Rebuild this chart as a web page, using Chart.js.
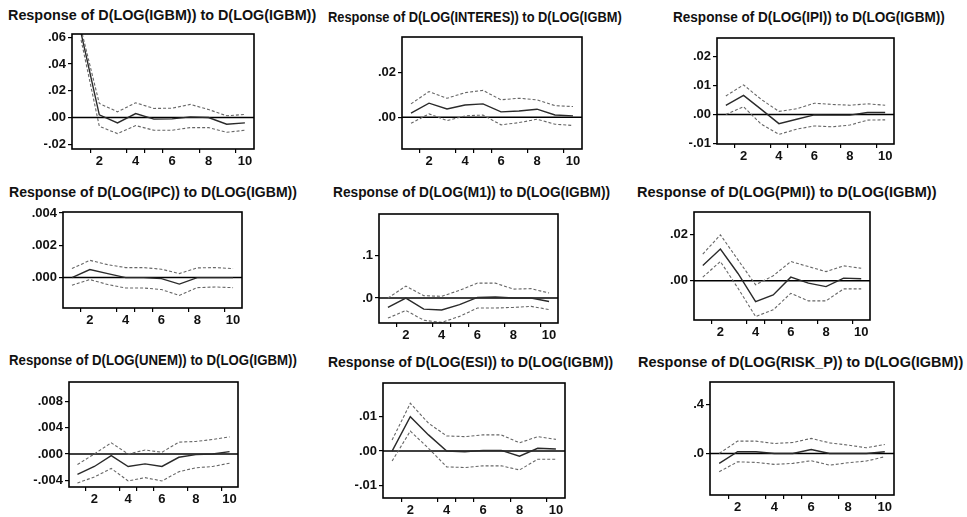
<!DOCTYPE html>
<html>
<head>
<meta charset="utf-8">
<script src="https://cdn.jsdelivr.net/npm/chart.js@4.4.1/dist/chart.umd.min.js"></script>
<style>
  body { margin: 0; background: #fff; width: 967px; height: 517px; position: relative; overflow: hidden; }
  .ttl { position: absolute; font: bold 14px "Liberation Sans", Arial, sans-serif; color: #111; white-space: nowrap; }
  canvas { position: absolute; }
</style>
</head>
<body>
<script>
// periods 1..10; tick marks sit between periods, labels on the even periods (EViews style)
const periods = [1, 2, 3, 4, 5, 6, 7, 8, 9, 10];
const xTickMarks = [1.5, 3.5, 4.5, 5.5, 7.5, 9.5];
const xLabelPos = [2, 4, 6, 8, 10];

const titles = [
  'Response of D(LOG(IGBM)) to D(LOG(IGBM))',
  'Response of D(LOG(INTERES)) to D(LOG(IGBM)',
  'Response of D(LOG(IPI)) to D(LOG(IGBM))',
  'Response of D(LOG(IPC)) to D(LOG(IGBM))',
  'Response of D(LOG(M1)) to D(LOG(IGBM))',
  'Response of D(LOG(PMI)) to D(LOG(IGBM))',
  'Response of D(LOG(UNEM)) to D(LOG(IGBM))',
  'Response of D(LOG(ESI)) to D(LOG(IGBM))',
  'Response of D(LOG(RISK_P)) to D(LOG(IGBM))'
];

// response, upper band, lower band
const igbmMid = [0.063, 0.002, -0.004, 0.003, -0.0012, -0.001, 0.0005, 0.0, -0.005, -0.004];
const igbmUp  = [0.066, 0.0105, 0.0043, 0.011, 0.0068, 0.007, 0.0098, 0.006, 0.0013, 0.0023];
const igbmLow = [0.058, -0.0065, -0.012, -0.006, -0.0095, -0.0095, -0.0075, -0.0075, -0.011, -0.0095];

const interMid = [0.0018, 0.0063, 0.0037, 0.0055, 0.006, 0.0024, 0.0028, 0.0036, 0.001, 0.0006];
const interUp  = [0.006, 0.0115, 0.0085, 0.011, 0.012, 0.0078, 0.0085, 0.0078, 0.0052, 0.0048];
const interLow = [-0.0027, 0.0015, -0.0015, 0.0006, 0.001, -0.0034, -0.0024, -0.0009, -0.0031, -0.0037];

const ipiMid = [0.0032, 0.0066, 0.0018, -0.0031, -0.0016, -0.0001, -0.0002, -0.0002, 0.0007, 0.0007];
const ipiUp  = [0.0064, 0.0102, 0.0052, 0.0011, 0.002, 0.0039, 0.0035, 0.0032, 0.0037, 0.0032];
const ipiLow = [0.0, 0.0027, -0.0033, -0.0068, -0.005, -0.0039, -0.0042, -0.0036, -0.0019, -0.0018];

const ipcMid = [0.0, 0.0005, 0.00025, 0.0, 0.0, -0.00006, -0.0004, 0.0, 0.0, 0.0];
const ipcUp  = [0.00056, 0.00107, 0.0008, 0.00062, 0.00062, 0.00052, 0.00025, 0.0006, 0.00062, 0.00056];
const ipcLow = [-0.00047, -0.00012, -0.00043, -0.00064, -0.00064, -0.00074, -0.0011, -0.00062, -0.00058, -0.00062];

const m1Mid = [-0.022, 0.0, -0.026, -0.028, -0.0156, 0.0016, 0.0023, 0.0, 0.0, -0.008];
const m1Up  = [0.0, 0.028, 0.0055, 0.004, 0.018, 0.035, 0.035, 0.021, 0.022, 0.0117];
const m1Low = [-0.047, -0.029, -0.052, -0.057, -0.043, -0.0234, -0.0234, -0.022, -0.0195, -0.027];

const pmiMid = [0.0067, 0.0138, 0.0032, -0.009, -0.0061, 0.0016, -0.001, -0.0025, 0.0012, 0.0009];
const pmiUp  = [0.0116, 0.02, 0.0091, -0.0017, 0.0022, 0.0084, 0.0062, 0.004, 0.0065, 0.0055];
const pmiLow = [0.0016, 0.0084, -0.0032, -0.0155, -0.0126, -0.0054, -0.0087, -0.0087, -0.0035, -0.0035];

const unemMid = [-0.0031, -0.0019, -0.00026, -0.0019, -0.0015, -0.0019, -0.0005, -0.0001, 0.0, 0.00036];
const unemUp  = [-0.0016, 0.0, 0.0017, 0.0, 0.0006, 0.00026, 0.0018, 0.0019, 0.0022, 0.0026];
const unemLow = [-0.0044, -0.0035, -0.0022, -0.0041, -0.0036, -0.0041, -0.0027, -0.0021, -0.0019, -0.0014];

const esiMid = [0.0, 0.01, 0.0047, 0.0, -0.0002, 0.0002, 0.0002, -0.0015, 0.0008, 0.0006];
const esiUp  = [0.0032, 0.0139, 0.0081, 0.0044, 0.0042, 0.0047, 0.0047, 0.0024, 0.0042, 0.0034];
const esiLow = [-0.0029, 0.0058, 0.0008, -0.0046, -0.0048, -0.0043, -0.0043, -0.0055, -0.0024, -0.0024];

const riskMid = [-0.081, 0.0135, 0.0135, 0.0, 0.0, 0.032, 0.0, 0.0, 0.0, 0.0135];
const riskUp  = [0.0, 0.1, 0.1, 0.081, 0.089, 0.122, 0.086, 0.068, 0.046, 0.073];
const riskLow = [-0.149, -0.068, -0.073, -0.089, -0.081, -0.059, -0.095, -0.076, -0.062, -0.027];

// y tick values and their labels
const igbmTicks = [-0.02, 0, 0.02, 0.04, 0.06];   const igbmTickText = ['-.02', '.00', '.02', '.04', '.06'];
const interTicks = [0, 0.02];                      const interTickText = ['.00', '.02'];
const ipiTicks = [-0.01, 0, 0.01, 0.02];           const ipiTickText = ['-.01', '.00', '.01', '.02'];
const ipcTicks = [0, 0.002, 0.004];                const ipcTickText = ['.000', '.002', '.004'];
const m1Ticks = [0, 0.1];                          const m1TickText = ['.0', '.1'];
const pmiTicks = [0, 0.02];                        const pmiTickText = ['.00', '.02'];
const unemTicks = [-0.004, 0, 0.004, 0.008];       const unemTickText = ['-.004', '.000', '.004', '.008'];
const esiTicks = [-0.01, 0, 0.01];                 const esiTickText = ['-.01', '.00', '.01'];
const riskTicks = [0, 0.4];                        const riskTickText = ['.0', '.4'];

// y axis ranges
const igbmRange = [-0.0235, 0.0624];
const interRange = [-0.0142, 0.0359];
const ipiRange = [-0.0101, 0.0263];
const ipcRange = [-0.00188, 0.00406];
const m1Range = [-0.0585, 0.197];
const pmiRange = [-0.017, 0.0299];
const unemRange = [-0.00502, 0.01094];
const esiRange = [-0.01366, 0.0198];
const riskRange = [-0.338, 0.581];

const series = [
  [igbmMid, igbmUp, igbmLow, igbmTicks, igbmTickText, igbmRange],
  [interMid, interUp, interLow, interTicks, interTickText, interRange],
  [ipiMid, ipiUp, ipiLow, ipiTicks, ipiTickText, ipiRange],
  [ipcMid, ipcUp, ipcLow, ipcTicks, ipcTickText, ipcRange],
  [m1Mid, m1Up, m1Low, m1Ticks, m1TickText, m1Range],
  [pmiMid, pmiUp, pmiLow, pmiTicks, pmiTickText, pmiRange],
  [unemMid, unemUp, unemLow, unemTicks, unemTickText, unemRange],
  [esiMid, esiUp, esiLow, esiTicks, esiTickText, esiRange],
  [riskMid, riskUp, riskLow, riskTicks, riskTickText, riskRange]
];

// layout: plot box [left, top, right, bottom], title [left, right, centre y]
const boxes = [
  [72, 34, 254, 149], [402, 37, 582, 149], [717, 38, 894, 144],
  [63, 212, 242, 308], [379, 214, 558, 323], [694, 212, 870, 320],
  [69, 382, 238, 487], [383, 383, 565, 498], [710, 382, 894, 495]
];
const titleSpan = [
  [8, 316, 15], [328, 622, 17], [673, 945, 17],
  [9, 297, 192], [333, 610, 192], [637, 937, 192],
  [9, 297, 360], [328, 613, 362], [638, 963, 362]
];

const AXW = 48, AXH = 22, PADT = 10, PADR = 12;
const tickFont = { family: '"Liberation Sans", Arial, sans-serif', size: 13, weight: 'bold' };
const xAll = [...xTickMarks, ...xLabelPos].sort((a, b) => a - b);

const framePlugin = {
  id: 'frame',
  beforeDatasetsDraw(chart) {
    const { ctx, chartArea: a, scales: { y } } = chart;
    const y0 = y.getPixelForValue(0);
    ctx.save();
    ctx.strokeStyle = '#000';
    ctx.lineWidth = 1.5;
    ctx.beginPath();
    ctx.moveTo(a.left, y0);
    ctx.lineTo(a.right, y0);
    ctx.stroke();
    ctx.restore();
  },
  afterDatasetsDraw(chart) {
    const { ctx, chartArea: a } = chart;
    ctx.save();
    ctx.strokeStyle = '#000';
    ctx.lineWidth = 1.6;
    ctx.strokeRect(a.left, a.top, a.right - a.left, a.bottom - a.top);
    ctx.restore();
  }
};

const toPts = arr => arr.map((v, i) => ({ x: periods[i], y: v }));

series.forEach((s, i) => {
  const [mid, up, low, yt, ytText, range] = s;
  const [l, t, r, b] = boxes[i];

  // title stretched to the width it has in the picture
  const [tl, tr, ty] = titleSpan[i];
  const title = document.createElement('div');
  title.className = 'ttl';
  title.textContent = titles[i];
  document.body.appendChild(title);
  const tw = title.offsetWidth, th = title.offsetHeight;
  title.style.left = tl + 'px';
  title.style.top = (ty - th / 2) + 'px';
  title.style.transformOrigin = '0 50%';
  title.style.transform = `scaleX(${(tr - tl) / tw})`;

  const cv = document.createElement('canvas');
  const w = (r - l) + AXW + PADR, h = (b - t) + PADT + AXH;
  cv.width = w; cv.height = h;
  cv.style.left = (l - AXW) + 'px';
  cv.style.top = (t - PADT) + 'px';
  cv.style.width = w + 'px'; cv.style.height = h + 'px';
  document.body.appendChild(cv);

  const band = data => ({
    data: toPts(data), borderColor: '#666', borderWidth: 1.1, borderDash: [3, 2],
    pointRadius: 0, tension: 0, fill: false
  });

  new Chart(cv.getContext('2d'), {
    type: 'line',
    data: {
      datasets: [
        band(up),
        band(low),
        { data: toPts(mid), borderColor: '#2a2a2a', borderWidth: 1.4, pointRadius: 0, tension: 0, fill: false }
      ]
    },
    options: {
      responsive: false,
      animation: false,
      devicePixelRatio: 1,
      layout: { padding: { left: 0, top: PADT, right: PADR, bottom: 0 } },
      plugins: { legend: { display: false }, tooltip: { enabled: false } },
      scales: {
        x: {
          type: 'linear', min: 0.5, max: 10.5,
          afterBuildTicks: ax => { ax.ticks = xAll.map(v => ({ value: v })); },
          afterFit: ax => { ax.height = AXH; },
          ticks: {
            autoSkip: false, maxRotation: 0, padding: 1, color: '#111', font: tickFont,
            callback: v => (xLabelPos.includes(v) ? String(v) : '')
          },
          grid: {
            drawOnChartArea: false, drawTicks: true, tickLength: 4, color: '#000', lineWidth: 1.2,
            tickColor: c => (c.tick && xLabelPos.includes(c.tick.value) ? 'rgba(0,0,0,0)' : '#000')
          },
          border: { display: false }
        },
        y: {
          type: 'linear', min: range[0], max: range[1],
          afterBuildTicks: ax => { ax.ticks = yt.map(v => ({ value: v })); },
          afterFit: ax => { ax.width = AXW; },
          ticks: {
            autoSkip: false, padding: 2, color: '#111', font: tickFont,
            callback: (v, idx) => ytText[idx]
          },
          grid: { drawOnChartArea: false, drawTicks: true, tickLength: 4, color: '#000', lineWidth: 1.2 },
          border: { display: false }
        }
      }
    },
    plugins: [framePlugin]
  });
});
</script>
</body>
</html>
